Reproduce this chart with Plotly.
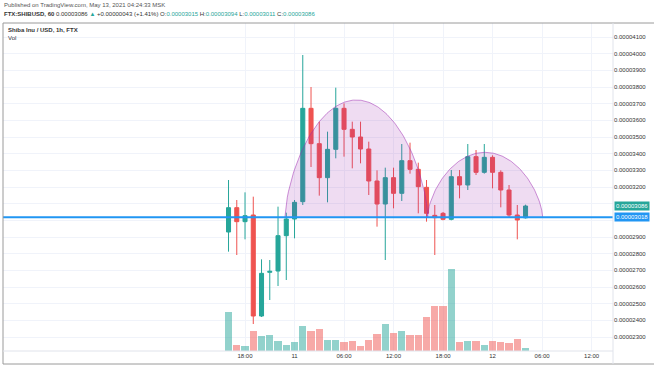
import numpy as np
import pandas as pd
import plotly.graph_objects as go

# ---------------- data (prices in units of 1e-8 USD) ----------------
start_time = "2021-05-10 16:00"
opens  = [2930, 3076, 2992, 3032, 2426, 2688, 2696, 2908, 3008, 3112, 3672, 3460, 3256, 3426, 3672, 3546, 3500, 3428, 3236,
          3098, 3256, 3162, 3358, 3306, 3198, 3030, 3042, 3006, 3262, 3212, 3382, 3288, 3378, 3288, 3182, 3032, 3015]
highs  = [3242, 3122, 3168, 3142, 2766, 2762, 3082, 3046, 3122, 3992, 3800, 3592, 3532, 3796, 3702, 3592, 3592, 3472, 3300,
          3316, 3316, 3458, 3466, 3346, 3242, 3092, 3050, 3302, 3302, 3458, 3422, 3458, 3390, 3300, 3212, 3092, 3094]
lows   = [2812, 2792, 2886, 2378, 2420, 2522, 2606, 2642, 2892, 3092, 3320, 3148, 3108, 3372, 3382, 3312, 3342, 3152, 2962,
          2762, 3072, 3116, 3280, 3042, 2992, 2792, 3000, 3000, 3132, 3182, 3272, 3280, 3192, 3078, 3020, 2886, 3011]
closes = [3076, 2992, 3028, 2426, 2682, 2694, 2908, 3008, 3108, 3672, 3460, 3256, 3426, 3672, 3546, 3500, 3428, 3236, 3098,
          3256, 3162, 3358, 3306, 3202, 3042, 3016, 3006, 3262, 3212, 3382, 3288, 3378, 3288, 3182, 3032, 3002, 3086]
volumes = [39.0, 6.0, 5.0, 20.0, 14.7, 16.3, 10.0, 5.7, 8.7, 25.3, 19.7, 21.7, 11.3, 11.0, 8.7, 9.7, 5.0, 10.7, 16.7,
           27.3, 17.7, 20.0, 16.3, 16.3, 34.0, 44.7, 45.3, 81.7, 8.7, 9.7, 10.0, 5.7, 10.0, 9.0, 8.0, 12.3, 2.7]

hline_price = 3018
last_price = 3086

# arc drawings (start time, end time, peak price)
arc_starts = ["2021-05-10 22:50", "2021-05-11 16:05"]
arc_ends   = ["2021-05-11 16:10", "2021-05-12 06:05"]
arc_peaks  = [3722, 3408]

price_ticks = list(range(2300, 4101, 100))
hidden_price_ticks = [3000, 3100]
time_tickvals = ["2021-05-10 18:00", "2021-05-11 00:00", "2021-05-11 06:00", "2021-05-11 12:00",
                 "2021-05-11 18:00", "2021-05-12 00:00", "2021-05-12 06:00", "2021-05-12 12:00"]
time_ticktext = ["18:00", "11", "06:00", "12:00", "18:00", "12", "06:00", "12:00"]

# ---------------- build ----------------
SC = 1e-8
times = pd.date_range(start_time, periods=len(opens), freq="h")
UP, DN = "#26a69a", "#ef5350"
UPV, DNV = "rgba(38,166,154,0.5)", "rgba(239,83,80,0.5)"

fig = go.Figure()

vol_colors = [UPV if c >= o else DNV for o, c in zip(opens, closes)]
fig.add_trace(go.Bar(x=times, y=volumes, marker=dict(color=vol_colors, line=dict(width=0)),
                     width=0.86 * 3600000, yaxis="y", showlegend=False, hoverinfo="skip"))

for s, e, pk in zip(arc_starts, arc_ends, arc_peaks):
    t0, t1 = pd.Timestamp(s), pd.Timestamp(e)
    u = np.linspace(0, 1, 120)
    r = 2 * u - 1
    px = [t0 + (t1 - t0) * v for v in u]
    py = (hline_price + (pk - hline_price) * np.clip(1 - r ** 2, 0, 1) ** 0.65) * SC
    fig.add_trace(go.Scatter(x=px, y=py, mode="lines", fill="toself",
                             fillcolor="rgba(156,39,176,0.16)",
                             line=dict(color="rgba(156,39,176,0.5)", width=1),
                             yaxis="y2", showlegend=False, hoverinfo="skip"))

fig.add_trace(go.Candlestick(
    x=times, open=np.array(opens) * SC, high=np.array(highs) * SC,
    low=np.array(lows) * SC, close=np.array(closes) * SC,
    increasing=dict(line=dict(color=UP, width=1), fillcolor=UP),
    decreasing=dict(line=dict(color=DN, width=1), fillcolor=DN),
    whiskerwidth=0, yaxis="y2", showlegend=False))

# plot pixel geometry
L, R, T, B = 3, 41, 23, 15
W, H = 654, 366
pw, ph = W - L - R, H - T - B

def pxx(x):
    return (x - L) / pw

def pxy(y):
    return (H - B - y) / ph

price_text = [("" if v in hidden_price_ticks else f"{v * SC:.8f}") for v in price_ticks]

fig.update_layout(
    width=W, height=H,
    margin=dict(l=L, r=R, t=T, b=B, autoexpand=False),
    paper_bgcolor="white", plot_bgcolor="white",
    font=dict(family="Liberation Sans, Arial, sans-serif", size=6, color="#333"),
    xaxis=dict(type="date", range=["2021-05-09 12:40", "2021-05-12 14:36"],
               tickvals=time_tickvals, ticktext=time_ticktext,
               showgrid=True, gridcolor="#f0f3fa", gridwidth=1,
               zeroline=False, showline=False, ticks="",
               rangeslider=dict(visible=False), tickfont=dict(size=6, color="#333")),
    yaxis=dict(range=[0, 328], visible=False, fixedrange=True),
    yaxis2=dict(overlaying="y", side="right", range=[2216 * SC, 4184 * SC],
                tickvals=[v * SC for v in price_ticks], ticktext=price_text,
                showgrid=True, gridcolor="#f0f3fa", gridwidth=1,
                zeroline=False, showline=False, ticks="",
                tickfont=dict(size=6, color="#333")),
    bargap=0,
)

# horizontal line
fig.add_shape(type="line", xref="paper", yref="y2", x0=0, x1=1,
              y0=hline_price * SC, y1=hline_price * SC,
              line=dict(color="#2196f3", width=2))

# frame lines
frame = "#9a9a9a"
sep = "#e0e3eb"
fig.add_shape(type="line", xref="paper", yref="paper", x0=0, x1=0, y0=pxy(364), y1=pxy(23),
              line=dict(color=frame, width=1))
fig.add_shape(type="line", xref="paper", yref="paper", x0=0, x1=pxx(654), y0=pxy(23), y1=pxy(23),
              line=dict(color=frame, width=1))
fig.add_shape(type="line", xref="paper", yref="paper", x0=0, x1=pxx(654), y0=pxy(364), y1=pxy(364),
              line=dict(color=frame, width=1))
fig.add_shape(type="line", xref="paper", yref="paper", x0=1, x1=1, y0=pxy(364), y1=pxy(23),
              line=dict(color=sep, width=1))
fig.add_shape(type="line", xref="paper", yref="paper", x0=0, x1=1, y0=0, y1=0,
              line=dict(color=sep, width=1))

# price labels on the right axis
fig.add_annotation(xref="paper", yref="y2", x=1, y=last_price * SC, xanchor="left", yanchor="middle",
                   text=f"{last_price * SC:.8f}", showarrow=False, bgcolor=UP,
                   font=dict(size=6, color="white"), borderpad=1, xshift=1)
fig.add_annotation(xref="paper", yref="y2", x=1, y=hline_price * SC, xanchor="left", yanchor="middle",
                   text=f"{hline_price * SC:.8f}", showarrow=False, bgcolor="#2196f3",
                   font=dict(size=6, color="white"), borderpad=1, xshift=1)

# header texts
fig.add_annotation(xref="paper", yref="paper", x=pxx(2), y=pxy(5), xanchor="left", yanchor="middle",
                   text="Published on TradingView.com, May 13, 2021 04:24:33 MSK", showarrow=False,
                   font=dict(size=6, color="#555"))
teal = "#26a69a"
hdr = ("<b>FTX:SHIBUSD, 60</b> 0.00003086 <span style='color:%s'>▲</span> +0.00000043 (+1.41%%) "
       "O:<span style='color:%s'>0.00003015</span> H:<span style='color:%s'>0.00003094</span> "
       "L:<span style='color:%s'>0.00003011</span> C:<span style='color:%s'>0.00003086</span>") % (teal, teal, teal, teal, teal)
fig.add_annotation(xref="paper", yref="paper", x=pxx(2), y=pxy(14), xanchor="left", yanchor="middle",
                   text=hdr, showarrow=False, font=dict(size=6, color="#333"))
fig.add_annotation(xref="paper", yref="paper", x=pxx(6), y=pxy(30), xanchor="left", yanchor="middle",
                   text="<b>Shiba Inu / USD, 1h, FTX</b>", showarrow=False, font=dict(size=6, color="#333"))
fig.add_annotation(xref="paper", yref="paper", x=pxx(6), y=pxy(38), xanchor="left", yanchor="middle",
                   text="Vol", showarrow=False, font=dict(size=6, color="#333"))

fig.write_html("out.html", config={"displayModeBar": False},
               post_script="document.body.style.margin='0';document.body.style.overflow='hidden';")
